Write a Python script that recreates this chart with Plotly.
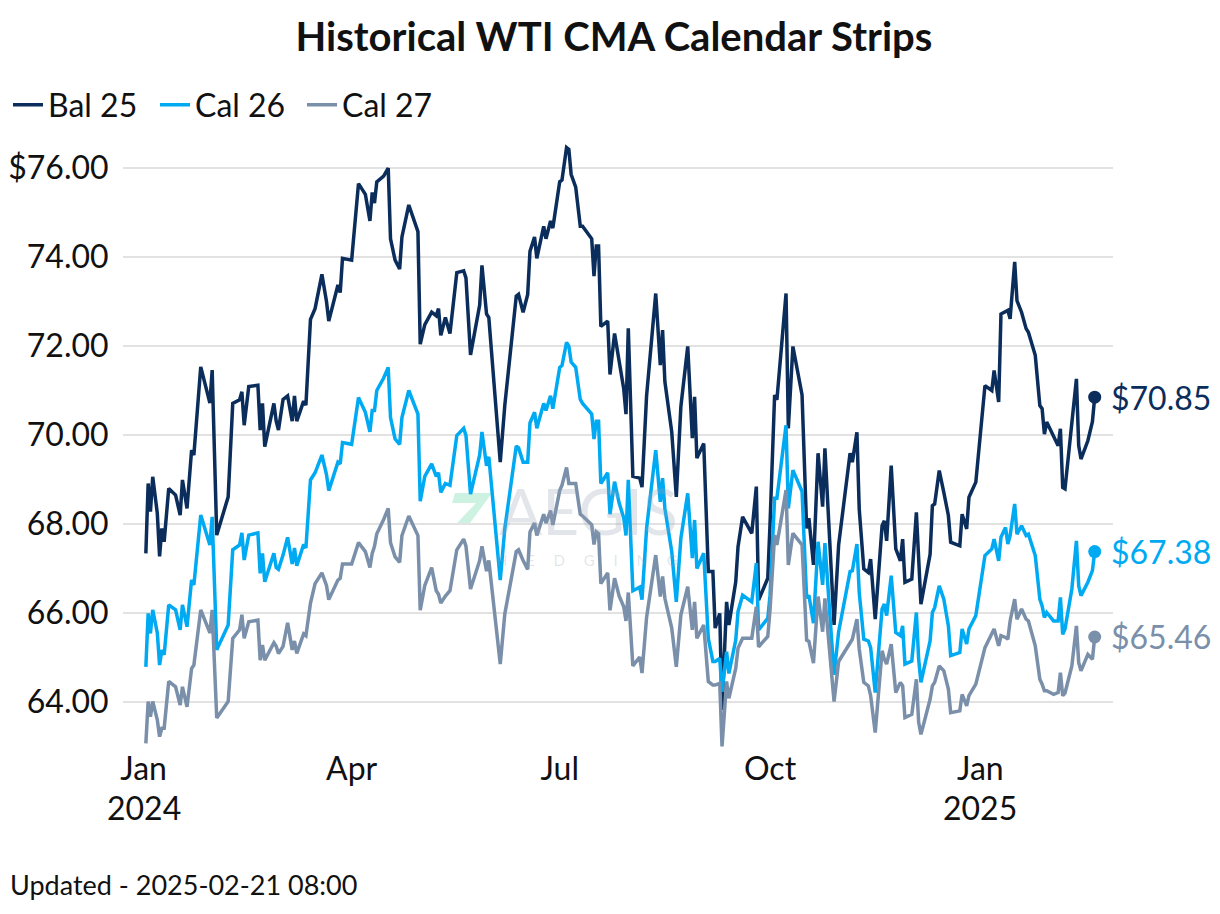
import plotly.graph_objects as go

# ---------------------------------------------
# Datos (strips WTI CMA)
# ---------------------------------------------
dates = [
    "2024-01-02", "2024-01-03", "2024-01-04", "2024-01-05", "2024-01-07", "2024-01-08", "2024-01-09", "2024-01-10",
    "2024-01-12", "2024-01-15", "2024-01-17", "2024-01-18", "2024-01-20", "2024-01-22", "2024-01-23", "2024-01-26",
    "2024-01-30", "2024-01-31", "2024-02-02", "2024-02-07", "2024-02-09", "2024-02-12", "2024-02-13", "2024-02-14",
    "2024-02-16", "2024-02-20", "2024-02-21", "2024-02-22", "2024-02-23",
    "2024-02-27", "2024-02-28", "2024-02-29", "2024-03-02", "2024-03-04", "2024-03-06", "2024-03-07", "2024-03-08",
    "2024-03-11", "2024-03-12", "2024-03-14", "2024-03-16", "2024-03-19", "2024-03-21", "2024-03-22", "2024-03-26",
    "2024-03-27", "2024-03-28", "2024-04-01", "2024-04-04", "2024-04-07", "2024-04-09", "2024-04-10", "2024-04-11",
    "2024-04-12", "2024-04-15", "2024-04-17", "2024-04-18", "2024-04-20", "2024-04-22", "2024-04-23", "2024-04-26",
    "2024-04-30", "2024-05-01", "2024-05-03", "2024-05-06", "2024-05-08", "2024-05-09", "2024-05-10", "2024-05-12",
    "2024-05-14", "2024-05-17",
    "2024-05-20", "2024-05-21", "2024-05-23", "2024-05-27", "2024-05-28", "2024-05-30", "2024-05-31", "2024-06-05",
    "2024-06-07", "2024-06-12", "2024-06-13", "2024-06-15", "2024-06-17", "2024-06-18", "2024-06-20", "2024-06-21",
    "2024-06-24", "2024-06-25", "2024-06-27", "2024-06-28", "2024-07-01", "2024-07-02", "2024-07-04", "2024-07-05",
    "2024-07-06", "2024-07-08", "2024-07-10", "2024-07-11", "2024-07-15", "2024-07-16", "2024-07-17", "2024-07-18",
    "2024-07-19", "2024-07-22", "2024-07-23", "2024-07-25", "2024-07-27", "2024-07-29", "2024-07-30", "2024-07-31",
    "2024-08-02", "2024-08-05", "2024-08-06", "2024-08-08",
    "2024-08-12", "2024-08-14", "2024-08-15", "2024-08-16", "2024-08-19", "2024-08-21", "2024-08-23", "2024-08-26",
    "2024-08-28", "2024-08-29", "2024-08-30", "2024-09-02", "2024-09-04", "2024-09-06", "2024-09-07", "2024-09-09",
    "2024-09-10", "2024-09-12", "2024-09-13", "2024-09-16", "2024-09-17", "2024-09-19", "2024-09-23", "2024-09-25",
    "2024-09-26", "2024-09-30", "2024-10-01", "2024-10-03", "2024-10-04", "2024-10-08", "2024-10-09", "2024-10-11",
    "2024-10-15", "2024-10-17", "2024-10-18", "2024-10-20", "2024-10-22", "2024-10-24", "2024-10-25", "2024-10-29",
    "2024-10-31", "2024-11-05",
    "2024-11-06", "2024-11-08", "2024-11-09", "2024-11-11", "2024-11-13", "2024-11-14", "2024-11-16", "2024-11-19",
    "2024-11-20", "2024-11-21", "2024-11-23", "2024-11-25", "2024-11-27", "2024-11-28", "2024-11-29", "2024-12-02",
    "2024-12-04", "2024-12-05", "2024-12-06", "2024-12-10", "2024-12-11", "2024-12-12", "2024-12-14", "2024-12-16",
    "2024-12-18", "2024-12-19", "2024-12-23", "2024-12-24", "2024-12-26", "2024-12-27", "2024-12-30", "2025-01-03",
    "2025-01-06", "2025-01-07", "2025-01-09", "2025-01-10", "2025-01-12", "2025-01-13", "2025-01-14", "2025-01-16",
    "2025-01-17", "2025-01-19", "2025-01-21", "2025-01-22", "2025-01-25", "2025-01-27", "2025-01-28", "2025-01-29",
    "2025-01-30", "2025-02-02", "2025-02-04", "2025-02-05", "2025-02-06", "2025-02-07", "2025-02-10", "2025-02-12",
    "2025-02-13", "2025-02-14", "2025-02-17", "2025-02-19", "2025-02-20",
]

bal25 = [
    67.34, 68.91, 68.28, 69.06, 68.24, 67.27, 67.90, 67.60, 68.80, 68.65, 68.20, 68.99, 68.35, 69.66, 69.55, 71.53,
    70.72, 71.46, 67.75, 68.61, 70.71, 70.79, 70.97, 70.22, 71.09, 71.12, 70.11, 70.71, 69.74,
    70.71, 70.31, 70.11, 70.80, 70.88, 70.31, 70.88, 70.31, 70.76, 70.67, 72.60, 72.84, 73.61, 73.00, 72.56, 73.37,
    73.20, 73.97, 73.93, 75.65, 75.41, 74.81, 75.45, 75.21, 75.69, 75.82, 76.00, 74.41, 73.93, 73.73, 74.45, 75.17,
    74.57, 72.04, 72.48, 72.76, 72.68, 72.84, 72.24, 72.64, 72.28, 73.65,
    73.69, 73.53, 71.80, 72.92, 73.81, 72.72, 72.64, 69.39, 70.67, 73.12, 73.16, 72.76, 73.16, 74.13, 74.45, 73.97,
    74.69, 74.41, 74.81, 74.65, 75.69, 75.73, 76.46, 76.42, 75.86, 75.57, 74.69, 74.69, 74.41, 73.57, 74.25, 74.25,
    72.44, 72.56, 71.36, 72.28, 71.64, 71.04, 70.47, 72.40, 69.07, 69.03, 68.83, 70.88,
    73.18, 71.57, 72.36, 71.20, 70.07, 68.61, 70.64, 71.99, 69.93, 70.86, 69.48, 69.81, 66.93, 66.93, 65.66, 65.99,
    63.82, 66.25, 65.73, 66.70, 67.49, 68.16, 67.79, 68.84, 66.29, 66.78, 68.01, 70.90, 70.79, 73.18, 70.15, 71.99,
    70.90, 67.90, 68.13, 67.08, 69.59, 68.39, 69.70, 65.73, 67.53, 69.59,
    69.39, 70.06, 68.34, 66.99, 66.91, 67.21, 65.86, 67.96, 68.07, 67.62, 69.31, 67.44, 67.17, 67.66, 66.69, 66.76,
    68.26, 66.99, 66.20, 67.32, 68.41, 68.45, 69.20, 68.71, 68.19, 67.59, 67.51, 68.22, 67.89, 68.60, 68.94, 71.11,
    71.00, 71.45, 70.74, 72.72, 72.76, 72.80, 72.61, 73.89, 73.02, 72.76, 72.39, 72.31, 71.79, 70.66, 70.59, 70.02,
    70.29, 69.99, 69.76, 70.14, 68.82, 68.79, 70.20, 71.26, 69.76, 69.46, 69.87, 70.30, 70.85,
]

cal26 = [
    64.79, 65.99, 65.54, 66.07, 65.55, 64.83, 65.17, 65.06, 66.18, 66.07, 65.62, 66.18, 65.69, 66.74, 66.63, 68.20,
    67.53, 68.16, 65.17, 65.73, 67.42, 67.53, 67.80, 67.19, 67.75, 67.80, 66.89, 67.34, 66.70,
    67.34, 67.02, 66.98, 67.30, 67.70, 67.10, 67.46, 67.06, 67.54, 67.46, 68.99, 69.15, 69.55, 69.11, 68.75, 69.39,
    69.35, 69.83, 69.79, 70.84, 70.51, 70.07, 70.55, 70.55, 71.00, 71.28, 71.52, 70.39, 69.91, 69.79, 70.39, 71.00,
    70.47, 68.51, 69.07, 69.35, 69.07, 69.15, 68.71, 68.91, 68.87, 69.99,
    70.15, 69.99, 68.67, 69.55, 70.07, 69.31, 69.51, 66.74, 67.90, 69.75, 69.71, 69.39, 69.39, 70.27, 70.51, 70.15,
    70.71, 70.55, 70.88, 70.59, 71.52, 71.56, 72.08, 72.00, 71.64, 71.52, 70.80, 70.71, 70.47, 69.91, 70.31, 70.31,
    68.91, 69.15, 68.22, 68.95, 68.47, 68.14, 67.74, 68.99, 66.50, 66.58, 66.30, 67.90,
    69.66, 68.50, 69.03, 68.35, 67.38, 66.25, 67.68, 68.69, 67.23, 68.09, 67.00, 67.34, 65.43, 64.91, 64.91, 64.98,
    64.23, 65.13, 64.64, 65.39, 66.03, 66.40, 66.25, 67.12, 65.62, 65.88, 66.40, 68.58, 68.58, 70.22, 68.35, 69.21,
    68.73, 66.33, 66.40, 65.77, 67.60, 66.63, 67.57, 64.61, 65.58, 66.93,
    66.95, 67.55, 66.46, 65.41, 65.37, 65.22, 64.21, 66.09, 66.20, 65.94, 66.84, 65.56, 65.49, 65.71, 64.85, 64.92,
    66.01, 64.96, 64.44, 65.37, 66.01, 66.12, 66.61, 66.31, 65.71, 65.04, 65.11, 65.64, 65.30, 65.64, 65.94, 67.29,
    67.44, 67.66, 67.17, 67.70, 67.92, 67.55, 67.74, 68.45, 67.77, 67.96, 67.74, 67.77, 67.29, 66.31, 66.16, 65.90,
    66.01, 65.82, 65.82, 66.35, 65.52, 65.64, 66.54, 67.62, 66.61, 66.39, 66.69, 66.95, 67.38,
]

cal27 = [
    63.07, 64.01, 63.67, 64.01, 63.60, 63.22, 63.41, 63.41, 64.46, 64.34, 63.93, 64.34, 63.89, 64.75, 64.83, 66.07,
    65.55, 66.07, 63.64, 64.01, 65.43, 65.62, 65.96, 65.43, 65.80, 65.84, 64.94, 65.28, 64.94,
    65.33, 65.25, 65.09, 65.25, 65.78, 65.17, 65.37, 65.09, 65.53, 65.49, 66.22, 66.66, 66.90, 66.62, 66.30, 66.74,
    66.78, 67.10, 67.10, 67.58, 67.38, 67.02, 67.34, 67.50, 67.78, 68.10, 68.35, 67.58, 67.26, 67.14, 67.74, 68.18,
    67.74, 66.06, 66.62, 67.02, 66.50, 66.42, 66.22, 66.38, 66.50, 67.42,
    67.66, 67.50, 66.54, 67.18, 67.50, 66.94, 67.18, 64.85, 65.98, 67.38, 67.42, 67.18, 66.98, 67.82, 68.02, 67.74,
    68.22, 68.02, 68.30, 67.98, 68.75, 68.87, 69.27, 68.91, 68.91, 68.91, 68.22, 68.18, 67.98, 67.54, 67.82, 67.78,
    66.66, 66.90, 66.06, 66.78, 66.38, 66.14, 65.82, 66.46, 64.81, 65.01, 64.65, 65.90,
    67.30, 66.37, 66.82, 66.33, 65.66, 64.79, 65.96, 66.59, 65.62, 66.25, 65.43, 65.73, 64.46, 64.38, 64.38, 64.42,
    63.00, 64.46, 64.08, 64.76, 65.21, 65.43, 65.43, 66.14, 65.24, 65.47, 66.07, 67.75, 67.53, 68.76, 67.08, 67.79,
    67.53, 65.39, 65.36, 64.87, 66.37, 65.58, 66.33, 64.01, 64.91, 65.36,
    65.41, 65.86, 65.19, 64.44, 64.36, 64.14, 63.31, 65.15, 64.96, 64.85, 65.30, 64.21, 64.44, 64.36, 63.65, 63.72,
    64.51, 63.54, 63.27, 64.06, 64.36, 64.44, 64.81, 64.70, 64.29, 63.76, 63.80, 64.17, 63.91, 64.14, 64.40, 65.22,
    65.56, 65.64, 65.26, 65.49, 65.45, 65.41, 65.82, 66.31, 65.86, 66.09, 65.86, 65.82, 65.26, 64.51, 64.40, 64.25,
    64.25, 64.17, 64.21, 64.66, 64.14, 64.20, 64.81, 65.71, 64.89, 64.70, 65.07, 64.96, 65.46,
]

# ejes
y_ticks = [64, 66, 68, 70, 72, 74, 76]
y_labels = ["64.00", "66.00", "68.00", "70.00", "72.00", "74.00", "$76.00"]
x_ticks = ["2024-01-01", "2024-04-01", "2024-07-01", "2024-10-01", "2025-01-01"]
x_labels = ["Jan", "Apr", "Jul", "Oct", "Jan"]
year_ticks = ["2024-01-01", "2025-01-01"]
year_labels = ["2024", "2025"]

FONT = "Lato"
TXT = "#111111"

series = [
    ("Bal 25", bal25, "#0b2d5b"),
    ("Cal 26", cal26, "#00aaf2"),
    ("Cal 27", cal27, "#7a8fa9"),
]

fig = go.Figure()

for name, vals, color in series:
    fig.add_trace(go.Scatter(
        x=dates, y=vals, name=name, mode="lines",
        line=dict(color=color, width=3.5),
    ))

# punto final + etiqueta de precio
for name, vals, color in series:
    fig.add_trace(go.Scatter(
        x=[dates[-1]], y=[vals[-1]], mode="markers",
        marker=dict(color=color, size=13),
        showlegend=False, hoverinfo="skip",
    ))
    fig.add_annotation(
        x=dates[-1], y=vals[-1], text=f"${vals[-1]:.2f}",
        xanchor="left", yanchor="middle", xshift=14, showarrow=False,
        font=dict(family=FONT, size=32, color=color),
    )

# año bajo las marcas de enero
for d, lab in zip(year_ticks, year_labels):
    fig.add_annotation(
        x=d, y=-0.094, xref="x", yref="paper", text=lab, showarrow=False,
        xanchor="center", yanchor="middle",
        font=dict(family=FONT, size=32, color=TXT),
    )

# marca de agua (AEGIS HEDGING)
wm_gray = "rgba(150,162,180,0.28)"
fig.add_annotation(
    x=0.47, y=0.393, xref="paper", yref="paper", text="AEGIS", showarrow=False,
    font=dict(family=FONT, size=64, color=wm_gray),
)
fig.add_annotation(
    x=0.469, y=0.293, xref="paper", yref="paper",
    text="\u2003\u2002".join("HEDGING"), showarrow=False,
    font=dict(family=FONT, size=15, color=wm_gray),
)
fig.add_shape(
    type="path", xref="paper", yref="paper", layer="below", line_width=0,
    fillcolor="rgba(100,215,165,0.32)",
    path="M 0.3354 0.4213 L 0.3727 0.4213 L 0.3505 0.3721 L 0.3374 0.3721 L 0.3566 0.4049 L 0.3323 0.4049 Z",
)

# pie de página
fig.add_annotation(
    x=-0.1162, y=-0.2213, xref="paper", yref="paper", text="Updated - 2025-02-21 08:00",
    xanchor="left", yanchor="middle", showarrow=False,
    font=dict(family=FONT, size=27, color=TXT),
)

fig.update_layout(
    width=1212, height=906,
    margin=dict(l=115, r=107, t=132, b=164),
    paper_bgcolor="white", plot_bgcolor="white",
    font=dict(family=FONT, color=TXT, size=32),
    title=dict(
        text="<b>Historical WTI CMA Calendar Strips</b>",
        x=0.5, xanchor="center", y=1 - 29 / 906, yanchor="middle",
        font=dict(family=FONT, size=40, color=TXT),
    ),
    legend=dict(
        orientation="h", xref="container", yref="container",
        x=0.0, xanchor="left", y=1 - 97 / 906, yanchor="middle",
        font=dict(family=FONT, size=32), itemwidth=30, traceorder="normal",
        entrywidth=102, entrywidthmode="pixels",
    ),
    showlegend=True,
    hovermode="x unified",
)

fig.update_xaxes(
    range=["2023-12-23", "2025-02-28"], tickvals=x_ticks, ticktext=x_labels,
    showgrid=False, showline=False, zeroline=False, ticks="", ticklabelstandoff=-3,
    automargin=False,
    tickfont=dict(family=FONT, size=32, color=TXT),
)
# marcas invisibles para separar las etiquetas del área del gráfico
fig.update_yaxes(
    range=[62.92, 76.63], tickvals=y_ticks, ticktext=y_labels,
    showgrid=True, gridcolor="#e2e2e2", gridwidth=2, zeroline=False,
    showline=False, ticks="outside", ticklen=7, tickcolor="rgba(0,0,0,0)",
    automargin=False,
    tickfont=dict(family=FONT, size=32, color=TXT),
)

fig.write_html("out.html")
